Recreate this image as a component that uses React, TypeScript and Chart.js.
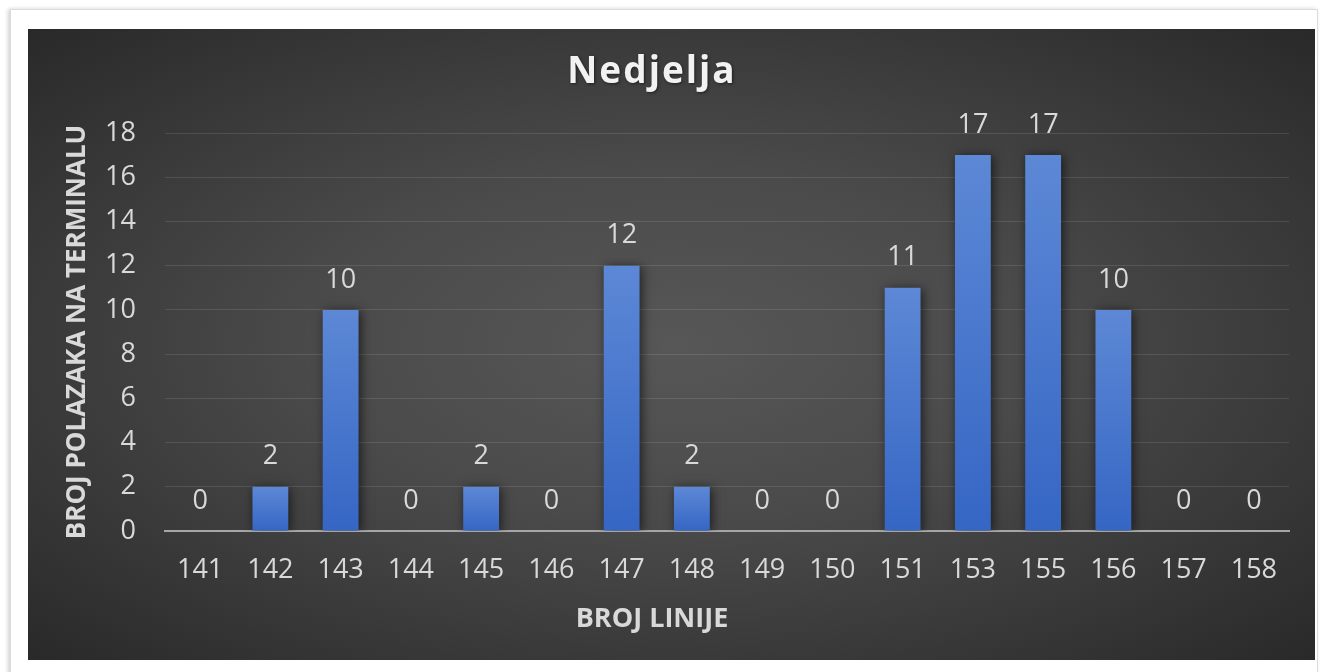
import React, { useEffect, useRef } from "react";
import { Chart, registerables } from "chart.js";

Chart.register(...registerables);

const chartTitle = "Nedjelja";
const xAxisTitle = "BROJ LINIJE";
const yAxisTitle = "BROJ POLAZAKA NA TERMINALU";
const categories = ["141", "142", "143", "144", "145", "146", "147", "148", "149", "150", "151", "153", "155", "156", "157", "158"];
const departures = [0, 2, 10, 0, 2, 0, 12, 2, 0, 0, 11, 17, 17, 10, 0, 0];
const yMin = 0;
const yMax = 18;
const yStep = 2;

const FONT = "'Open Sans', 'DejaVu Sans', sans-serif";

const barEffects = {
  id: "barEffects",
  beforeDatasetsDraw(chart: any) {
    const ctx = chart.ctx;
    ctx.save();
    ctx.shadowColor = "rgba(0,0,0,0.6)";
    ctx.shadowBlur = 10;
    ctx.shadowOffsetX = 2;
    ctx.shadowOffsetY = 1;
  },
  afterDatasetsDraw(chart: any) {
    const ctx = chart.ctx;
    ctx.restore();
    ctx.save();
    ctx.fillStyle = "#d9d9d9";
    ctx.font = `27px ${FONT}`;
    ctx.textAlign = "center";
    ctx.textBaseline = "middle";
    const meta = chart.getDatasetMeta(0);
    meta.data.forEach((bar: any, i: number) => {
      const v = chart.data.datasets[0].data[i];
      ctx.fillText(String(v), bar.x, bar.y - 30);
    });
    ctx.restore();
  },
  afterDraw(chart: any) {
    const ctx = chart.ctx;
    ctx.save();
    ctx.textAlign = "center";
    ctx.textBaseline = "middle";
    // x axis title (centred on the whole chart, as in the original)
    ctx.fillStyle = "#d9d9d9";
    ctx.font = `bold 27px ${FONT}`;
    ctx.fillText(xAxisTitle, 624, 590);
    // chart title
    ctx.fillStyle = "#f2f2f2";
    ctx.font = `bold 37px ${FONT}`;
    (ctx as any).letterSpacing = "2px";
    ctx.shadowColor = "rgba(0,0,0,0.5)";
    ctx.shadowBlur = 3;
    ctx.shadowOffsetX = 1;
    ctx.shadowOffsetY = 1;
    ctx.fillText(chartTitle, 624, 43);
    ctx.restore();
  },
};

export default function App() {
  const ref = useRef<HTMLCanvasElement | null>(null);

  useEffect(() => {
    if (!ref.current) return;
    const chart = new Chart(ref.current, {
      type: "bar",
      data: {
        labels: categories,
        datasets: [
          {
            data: departures,
            backgroundColor: (c: any) => {
              const ch = c.chart;
              const ys = ch.scales?.y;
              if (!ch.chartArea || !ys || c.raw === undefined) return "#4472c4";
              const top = ys.getPixelForValue(c.raw);
              const base = ys.getPixelForValue(0);
              if (!isFinite(top) || Math.abs(base - top) < 1) return "#4472c4";
              const g = ch.ctx.createLinearGradient(0, top, 0, base);
              g.addColorStop(0, "#5d88d6");
              g.addColorStop(1, "#3566c4");
              return g;
            },
            borderWidth: 0,
            barPercentage: 0.51,
            categoryPercentage: 1,
          },
        ],
      },
      options: {
        animation: false,
        responsive: true,
        maintainAspectRatio: false,
        layout: { padding: { left: 0, right: 26, top: 104, bottom: 0 } },
        plugins: {
          legend: { display: false },
          tooltip: { enabled: false },
          title: { display: false },
        },
        scales: {
          x: {
            grid: { display: false, drawTicks: false },
            border: { display: true, color: "#a6a6a6", width: 2 },
            ticks: { color: "#d9d9d9", font: { family: FONT, size: 27 }, padding: 23, maxRotation: 0, autoSkip: false },
            title: { display: false },
            afterFit: (s: any) => {
              s.height = 129;
            },
          },
          y: {
            min: yMin,
            max: yMax,
            ticks: { stepSize: yStep, color: "#d9d9d9", font: { family: FONT, size: 27 }, padding: 29 },
            grid: { color: "rgba(255,255,255,0.11)", lineWidth: 1, drawTicks: false },
            border: { display: false },
            title: {
              display: true,
              text: yAxisTitle,
              color: "#d9d9d9",
              font: { family: FONT, size: 26, weight: "bold", lineHeight: 1.2 },
              padding: { top: 34, bottom: 0 },
            },
            afterFit: (s: any) => {
              s.width = 137;
            },
          },
        },
      },
      plugins: [barEffects],
    } as any);
    return () => chart.destroy();
  }, []);

  return (
    <div style={{ position: "fixed", left: 0, top: 0, width: 1325, height: 672, background: "#ffffff", overflow: "hidden" }}>
      <div
        style={{
          position: "absolute",
          left: 10,
          top: 9,
          width: 1306,
          height: 700,
          border: "1px solid #dcdcdc",
          boxShadow: "-2px 0 4px rgba(0,0,0,0.18)",
          background: "#ffffff",
        }}
      />
      <div
        style={{
          position: "absolute",
          left: 28,
          top: 29,
          width: 1287,
          height: 631,
          background: "radial-gradient(ellipse farthest-corner at 50% 50%, #575757 0%, #4a4a4a 40%, #292929 100%)",
        }}
      >
        <canvas ref={ref} />
      </div>
    </div>
  );
}
